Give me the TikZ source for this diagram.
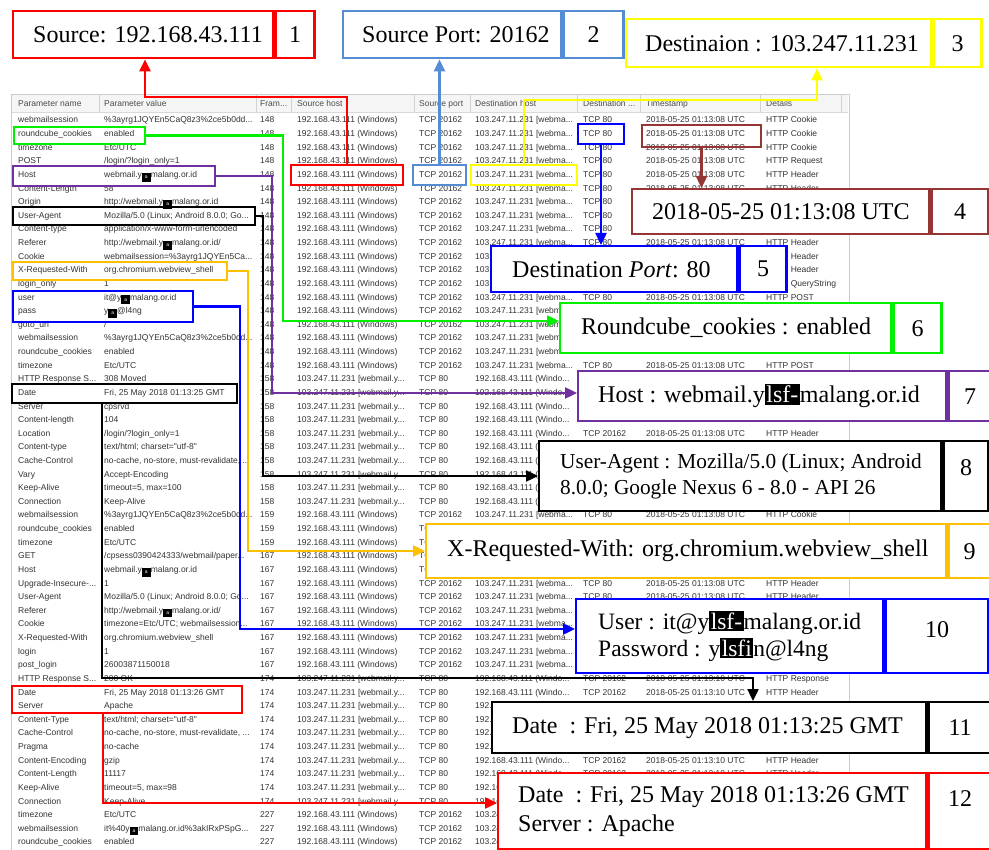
\documentclass[tikz,border=0pt]{standalone}
\usepackage{fontspec}
\setmainfont{Liberation Serif}
\newfontfamily\tablefont{Liberation Sans}
\usetikzlibrary{arrows.meta}
\definecolor{portblue}{RGB}{84,141,212}
\definecolor{timebrown}{RGB}{150,54,52}
\definecolor{hostpurple}{RGB}{112,48,160}
\definecolor{reqorange}{RGB}{255,192,0}
\definecolor{cookiegreen}{RGB}{0,240,0}
\definecolor{dstyellow}{RGB}{255,255,0}
\newcommand{\hidebox}{{\setlength{\fboxsep}{3pt}\raisebox{-1pt}{\colorbox{black}{\textcolor{white}{\tiny a}}}}}
\newcommand{\blackout}[1]{{\setlength{\fboxsep}{1.5pt}\colorbox{black}{\textcolor{white}{#1}}}}
\tikzset{
  cell/.style={font=\tablefont\fontsize{8.5}{10}\selectfont, text=black!80, anchor=base west, inner sep=0pt, yshift=-3pt},
  head/.style={cell, text=black!70},
  hl/.style={draw=#1, line width=2pt, anchor=north west, inner sep=0pt},
  pbox/.style={draw=#1, line width=2.4pt, fill=white, anchor=north west, inner sep=0pt},
  num/.style={pbox=#1, font=\fontsize{24}{28}\selectfont},
  big/.style={anchor=west, inner sep=0pt, align=left, font=\fontsize{24}{29}\selectfont},
  link/.style={draw=#1, line width=2.4pt, -{Triangle[length=12pt,width=11pt]}}
}
\begin{document}
\begin{tikzpicture}[x=1pt,y=-1pt]
\useasboundingbox (0,0) rectangle (989,850);
% screenshot of the table
\draw[gray!40, fill=white] (11,94) rectangle (849,853);
\fill[gray!8] (12,95) rectangle (848,112);
\draw[gray!30] (12,112) -- (848,112);
\foreach \x in {99,256,291,414,470,577,640,760,841}
  \draw[gray!35] (\x,95) -- (\x,112);
\node[head] (h1) at (18,104) {Parameter name};
\node[head] (h2) at (104,104) {Parameter value};
\node[head] (h3) at (260,104) {Fram...};
\node[head] (h4) at (297,104) {Source host};
\node[head] (h5) at (419,104) {Source port};
\node[head] (h6) at (475,104) {Destination host};
\node[head] (h7) at (583,104) {Destination ...};
\node[head] (h8) at (646,104) {Timestamp};
\node[head] (h9) at (766,104) {Details};
\foreach \pname/\pval [count=\i] in {
  webmailsession/{\%3ayrg1JQYEn5CaQ8z3\%2ce5b0dd...},
  roundcube\_cookies/enabled,
  timezone/{Etc/UTC},
  POST/{/login/?login\_only=1},
  Host/{webmail.y\hidebox malang.or.id},
  Content-Length/58,
  Origin/{http://webmail.y\hidebox malang.or.id},
  User-Agent/{Mozilla/5.0 (Linux; Android 8.0.0; Go...},
  Content-type/{application/x-www-form-urlencoded},
  Referer/{http://webmail.y\hidebox malang.or.id/},
  Cookie/{webmailsession=\%3ayrg1JQYEn5Ca...},
  X-Requested-With/{org.chromium.webview\_shell},
  login\_only/1,
  user/{it@y\hidebox malang.or.id},
  pass/{y\hidebox @l4ng},
  goto\_uri/{/},
  webmailsession/{\%3ayrg1JQYEn5CaQ8z3\%2ce5b0dd...},
  roundcube\_cookies/enabled,
  timezone/{Etc/UTC},
  {HTTP Response S...}/{308 Moved},
  Date/{Fri, 25 May 2018 01:13:25 GMT},
  Server/cpsrvd,
  Content-length/104,
  Location/{/login/?login\_only=1},
  Content-type/{text/html; charset="utf-8"},
  Cache-Control/{no-cache, no-store, must-revalidate, ...},
  Vary/Accept-Encoding,
  Keep-Alive/{timeout=5, max=100},
  Connection/Keep-Alive,
  webmailsession/{\%3ayrg1JQYEn5CaQ8z3\%2ce5b0dd...},
  roundcube\_cookies/enabled,
  timezone/{Etc/UTC},
  GET/{/cpsess0390424333/webmail/paper...},
  Host/{webmail.y\hidebox malang.or.id},
  {Upgrade-Insecure-...}/1,
  User-Agent/{Mozilla/5.0 (Linux; Android 8.0.0; Go...},
  Referer/{http://webmail.y\hidebox malang.or.id/},
  Cookie/{timezone=Etc/UTC; webmailsession...},
  X-Requested-With/{org.chromium.webview\_shell},
  login/1,
  post\_login/26003871150018,
  {HTTP Response S...}/{200 OK},
  Date/{Fri, 25 May 2018 01:13:26 GMT},
  Server/Apache,
  Content-Type/{text/html; charset="utf-8"},
  Cache-Control/{no-cache, no-store, must-revalidate, ...},
  Pragma/no-cache,
  Content-Encoding/gzip,
  Content-Length/11117,
  Keep-Alive/{timeout=5, max=98},
  Connection/Keep-Alive,
  timezone/{Etc/UTC},
  webmailsession/{it\%40y\hidebox malang.or.id\%3akIRxPSpG...},
  roundcube\_cookies/enabled}{
  \node[cell] (name\i) at (18,106.38+13.62*\i) {\pname};
  \node[cell] (val\i) at (104,106.38+13.62*\i) {\pval};
}
\foreach \a/\b/\f in {1/19/148,20/29/158,30/32/159,33/41/167,42/51/174,52/54/227}
  \foreach \i in {\a,...,\b}
    \node[cell] (frame\i) at (260,106.38+13.62*\i) {\f};
% client to server rows
\foreach \a/\b in {1/19,30/41,52/54}
  \foreach \i in {\a,...,\b} {
    \node[cell] (shost\i) at (297,106.38+13.62*\i) {192.168.43.111 (Windows)};
    \node[cell] (sport\i) at (419,106.38+13.62*\i) {TCP 20162};
    \node[cell] (dhost\i) at (475,106.38+13.62*\i) {103.247.11.231 [webma...};
    \node[cell] (dport\i) at (583,106.38+13.62*\i) {TCP 80};
  }
% server to client rows
\foreach \a/\b in {20/29,42/51}
  \foreach \i in {\a,...,\b} {
    \node[cell] (shost\i) at (297,106.38+13.62*\i) {103.247.11.231 [webmail.y...};
    \node[cell] (sport\i) at (419,106.38+13.62*\i) {TCP 80};
    \node[cell] (dhost\i) at (475,106.38+13.62*\i) {192.168.43.111 (Windo...};
    \node[cell] (dport\i) at (583,106.38+13.62*\i) {TCP 20162};
  }
\foreach \a/\b/\t in {1/41/08,42/54/10}
  \foreach \i in {\a,...,\b}
    \node[cell] (stamp\i) at (646,106.38+13.62*\i) {2018-05-25 01:13:\t{} UTC};
\foreach \a/\b/\d in {1/3/Cookie,4/4/Request,5/12/Header,13/13/QueryString,14/19/POST,
    20/20/Response,21/29/Header,30/32/Cookie,33/33/Request,34/39/Header,
    40/41/QueryString,42/42/Response,43/51/Header,52/54/Cookie}
  \foreach \i in {\a,...,\b}
    \node[cell] (kind\i) at (766,106.38+13.62*\i) {HTTP \d};
% marked cells
\node[hl=red, minimum width=112, minimum height=20] (srcHl) at (290,164) {};
\node[hl=portblue, minimum width=53, minimum height=20] (sportHl) at (412,164) {};
\node[hl=dstyellow, minimum width=106, minimum height=20] (dhostHl) at (470,164) {};
\node[hl=blue, minimum width=46, minimum height=20] (dportHl) at (577,123) {};
\node[hl=timebrown, minimum width=119, minimum height=22] (timeHl) at (641,124) {};
\node[hl=cookiegreen, minimum width=131, minimum height=17] (cookieHl) at (13,126) {};
\node[hl=hostpurple, minimum width=202, minimum height=20] (hostHl) at (12,165) {};
\node[hl=black, minimum width=242, minimum height=18] (uaHl) at (12,206) {};
\node[hl=reqorange, minimum width=214, minimum height=18] (xrwHl) at (12,261) {};
\node[hl=blue, minimum width=180, minimum height=31] (userHl) at (12,290) {};
\node[hl=black, minimum width=225, minimum height=19] (dateHl) at (11,383) {};
\node[hl=red, minimum width=230, minimum height=27] (serverHl) at (11,685) {};
% callout boxes
\node[pbox=red, minimum width=260, minimum height=47] (srcBox) at (12,10) {};
\node[num=red, minimum width=39, minimum height=47] (srcNum) at (srcBox.north east) {1};
\node[big] (srcText) at ([xshift=21]srcBox.west) {Source: 192.168.43.111};
\node[pbox=portblue, minimum width=218, minimum height=47] (sportBox) at (342,10) {};
\node[num=portblue, minimum width=60, minimum height=47] (sportNum) at (sportBox.north east) {2};
\node[big] (sportText) at ([xshift=20]sportBox.west) {Source Port: 20162};
\node[pbox=dstyellow, minimum width=305, minimum height=48] (dstBox) at (625,18) {};
\node[num=dstyellow, minimum width=48, minimum height=48] (dstNum) at (dstBox.north east) {3};
\node[big] (dstText) at ([xshift=20]dstBox.west) {Destinaion : 103.247.11.231};
\node[pbox=timebrown, minimum width=297, minimum height=45] (timeBox) at (631,188) {};
\node[num=timebrown, minimum width=57, minimum height=45] (timeNum) at (timeBox.north east) {4};
\node[big] (timeText) at ([xshift=21]timeBox.west) {2018-05-25 01:13:08 UTC};
\node[pbox=blue, minimum width=246, minimum height=46] (dportBox) at (490,245) {};
\node[num=blue, minimum width=47, minimum height=46] (dportNum) at (dportBox.north east) {5};
\node[big] (dportText) at ([xshift=22]dportBox.west) {Destination \textit{Port}: 80};
\node[pbox=cookiegreen, minimum width=331, minimum height=50] (cookieBox) at (559,302) {};
\node[num=cookiegreen, minimum width=48, minimum height=50] (cookieNum) at (cookieBox.north east) {6};
\node[big] (cookieText) at ([xshift=22]cookieBox.west) {Roundcube\_cookies : enabled};
\node[pbox=hostpurple, minimum width=368, minimum height=50] (hostBox) at (577,370) {};
\node[num=hostpurple, minimum width=43, minimum height=50] (hostNum) at (hostBox.north east) {7};
\node[big] (hostText) at ([xshift=21]hostBox.west) {Host : webmail.y\blackout{lsf-}malang.or.id};
\node[pbox=black, minimum width=402, minimum height=70] (uaBox) at (538,440) {};
\node[num=black, minimum width=45, minimum height=70, text depth=18pt] (uaNum) at (uaBox.north east) {8};
\node[big, font=\fontsize{21.3}{26}\selectfont] (uaText) at ([xshift=22]uaBox.west) {User-Agent : Mozilla/5.0 (Linux; Android\\8.0.0; Google Nexus 6 - 8.0 - API 26};
\node[pbox=reqorange, minimum width=520, minimum height=54] (xrwBox) at (425,523) {};
\node[num=reqorange, minimum width=42, minimum height=54] (xrwNum) at (xrwBox.north east) {9};
\node[big] (xrwText) at ([xshift=22]xrwBox.west) {X-Requested-With: org.chromium.webview\_shell};
\node[pbox=blue, minimum width=307, minimum height=74] (userBox) at (575,598) {};
\node[num=blue, minimum width=103, minimum height=74, text depth=14pt] (userNum) at (userBox.north east) {10};
\node[big, font=\fontsize{23.5}{27}\selectfont] (userText) at ([xshift=23]userBox.west) {User : it@y\blackout{lsf-}malang.or.id\\Password : y\blackout{lsfi}n@l4ng};
\node[pbox=black, minimum width=434, minimum height=51] (dateBox) at (491,701) {};
\node[num=black, minimum width=63, minimum height=51] (dateNum) at (dateBox.north east) {11};
\node[big] (dateText) at ([xshift=21]dateBox.west) {Date~ : Fri, 25 May 2018 01:13:25 GMT};
\node[pbox=red, minimum width=428, minimum height=76] (serverBox) at (497,772) {};
\node[num=red, minimum width=63, minimum height=76, text depth=26pt] (serverNum) at (serverBox.north east) {12};
\node[big] (serverText) at ([xshift=21]serverBox.west) {Date~ : Fri, 25 May 2018 01:13:26 GMT\\Server : Apache};
% connectors
\coordinate (srcBend) at (145,97);
\draw[link=red] (srcHl.north) |- (srcBend) -- (srcBend |- srcBox.south);
\draw[link=portblue] (sportHl.north) -- (sportHl.north |- sportBox.south);
\coordinate (dstBend) at (817,100);
\draw[link=dstyellow] (dhostHl.north) |- (dstBend) -- (dstBend |- dstBox.south);
\draw[link=blue] (dportHl.south) -- (dportHl.south |- dportBox.north);
\draw[link=timebrown] (timeHl.south) -- (timeHl.south |- timeBox.north);
\coordinate (cookieBend) at (283,321);
\draw[link=cookiegreen] (cookieHl.east) -| (cookieBend) -- (cookieBend -| cookieBox.west);
\coordinate (hostBend) at (272,393);
\draw[link=hostpurple] (hostHl.east) -| (hostBend) -- (hostBend -| hostBox.west);
\coordinate (uaBend) at (263,476);
\draw[link=black] (uaHl.east) -| (uaBend) -- (uaBend -| uaBox.west);
\coordinate (xrwBend) at (248,551);
\draw[link=reqorange] (xrwHl.east) -| (xrwBend) -- (xrwBend -| xrwBox.west);
\coordinate (userBend) at (240,629);
\draw[link=blue] (userHl.east) -| (userBend) -- (userBend -| userBox.west);
\coordinate (dateDrop) at (102,678);
\coordinate (dateTurn) at (753,678);
\draw[link=black] (dateDrop |- dateHl.south) -- (dateDrop) -- (dateTurn) -- (dateTurn |- dateBox.north);
\coordinate (serverDrop) at (103,803);
\draw[link=red] (serverDrop |- serverHl.south) -- (serverDrop) -- (serverDrop -| serverBox.west);
\end{tikzpicture}
\end{document}
